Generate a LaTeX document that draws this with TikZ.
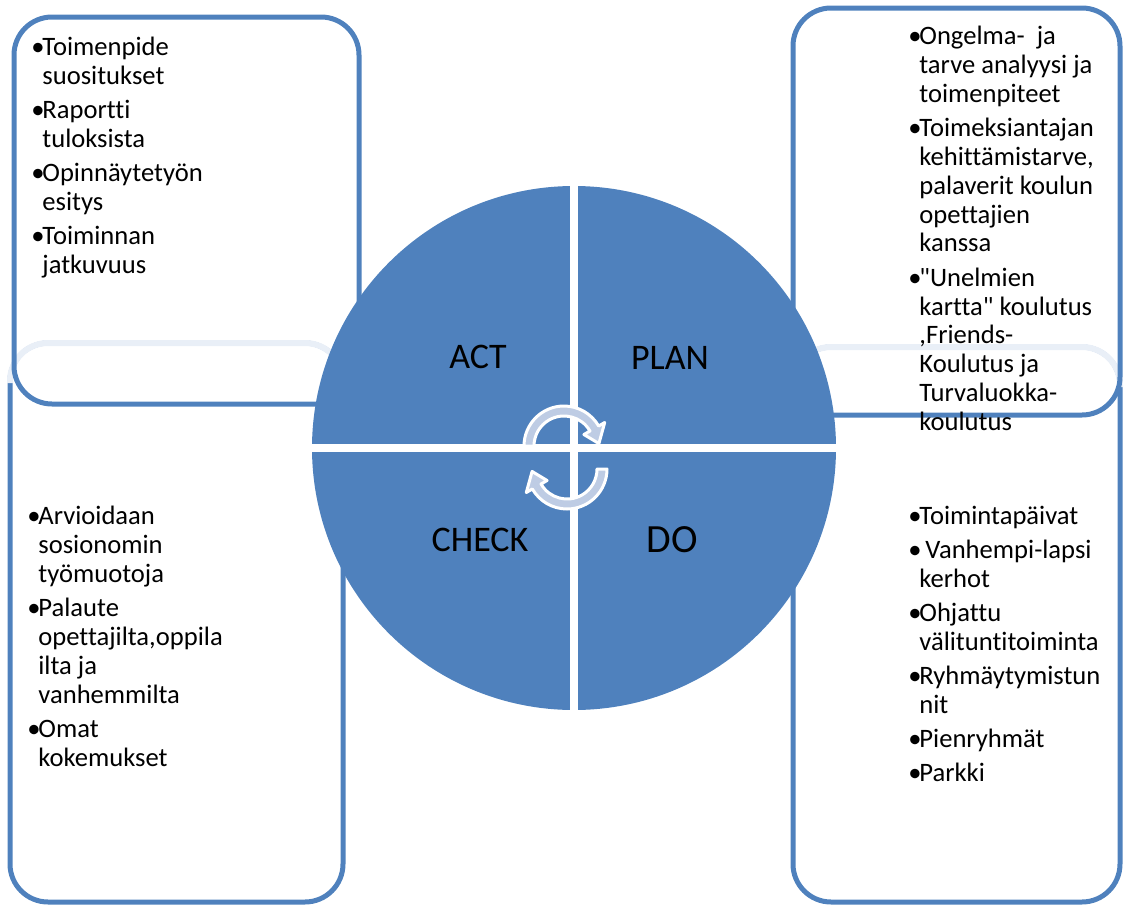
\documentclass[tikz,border=0pt]{standalone}
\usepackage{fontspec}
\setmainfont{Carlito}[Ligatures={TeXOff,CommonOff}]
\definecolor{cycblue}{RGB}{79,129,189}
\definecolor{fadeblue}{RGB}{233,239,247}
\definecolor{arrowfill}{RGB}{190,204,228}
\newcommand{\bul}{\makebox[5.5pt][l]{•}}

\begin{document}
\begin{tikzpicture}[x=0.5pt, y=-0.5pt]
\tikzstyle{every node} = [inner sep=0pt]
\tikzstyle{boxline} = [draw=cycblue, line width=2.5pt, rounded corners=19pt]
\tikzstyle{topfade} = [draw=fadeblue, line width=3pt, rounded corners=19pt]
\tikzstyle{cycarrow} = [fill=arrowfill, draw=white, line width=1.5pt, line join=round]
\tikzstyle{phase} = [font=\fontsize{18}{18}\selectfont]
\tikzstyle{items} = [anchor=base west, font=\fontsize{13.3}{14.5}\selectfont]
\useasboundingbox (0,0) rectangle (1126,905);
% lower boxes, faded at the top
\foreach \xa/\ya/\xb/\yb in {10/343/343/902, 793/347/1120/902} {
\draw[boxline] (\xa,\ya) rectangle (\xb,\yb);
\draw[topfade] (\xa,\ya+40) -- (\xa,\ya) -- (\xb,\ya) -- (\xb,\ya+40);
}
% upper boxes
\foreach \xa/\ya/\xb/\yb in {14/17/359/404, 793/8/1120/415}
\draw[boxline] (\xa,\ya) rectangle (\xb,\yb);
% the cycle
\coordinate (c) at (574,448);
\fill[cycblue] (c) circle[radius=131pt];
\draw[white, line width=4pt] (c) -- +(-263,0) (c) -- +(263,0) (c) -- +(0,-263) (c) -- +(0,263);
\foreach \cx/\cy/\rot in {564/446/0, 567/469/180}
\filldraw[cycarrow, shift={(\cx,\cy)}, rotate=\rot] (180:40) arc[start angle=180, end angle=330, radius=40] -- (330:47) -- (356:35) -- (330:23) -- (330:30) arc[start angle=330, end angle=180, radius=30] -- cycle;
\node[phase] (act) at (478,357) {ACT};
\node[phase] (plan) at (670,358) {PLAN};
\node[phase] (check) at (480,540) {CHECK};
\node[phase, font=\fontsize{20}{20}\selectfont] (do) at (672,540) {DO};
% texts
\node[items] (acttxt) at (31,55) {\begin{tabular}[t]{@{}l@{}l@{}}
\bul&Toimenpide\\ &suositukset\\[2.5pt]
\bul&Raportti\\ &tuloksista\\[2.5pt]
\bul&Opinnäytetyön\\ &esitys\\[2.5pt]
\bul&Toiminnan\\ &jatkuvuus
\end{tabular}};
\node[items] (plantxt) at (908,44) {\begin{tabular}[t]{@{}l@{}l@{}}
\bul&Ongelma-\ \ ja\\ &tarve analyysi ja\\ &toimenpiteet\\[2.5pt]
\bul&Toimeksiantajan\\ &kehittämistarve,\\ &palaverit koulun\\ &opettajien\\ &kanssa\\[2.5pt]
\bul&"Unelmien\\ &kartta" koulutus\\ &,Friends-\\ &Koulutus ja\\ &Turvaluokka-\\ &koulutus
\end{tabular}};
\node[items] (checktxt) at (27,524) {\begin{tabular}[t]{@{}l@{}l@{}}
\bul&Arvioidaan\\ &sosionomin\\ &työmuotoja\\[2.5pt]
\bul&Palaute\\ &opettajilta,oppila\\ &ilta ja\\ &vanhemmilta\\[2.5pt]
\bul&Omat\\ &kokemukset
\end{tabular}};
\node[items] (dotxt) at (908,524) {\begin{tabular}[t]{@{}l@{}l@{}}
\bul&Toimintapäivat\\[2.5pt]
\bul&\ Vanhempi-lapsi\\ &kerhot\\[2.5pt]
\bul&Ohjattu\\ &välituntitoiminta\\[2.5pt]
\bul&Ryhmäytymistun\\ &nit\\[2.5pt]
\bul&Pienryhmät\\[2.5pt]
\bul&Parkki
\end{tabular}};
\end{tikzpicture}
\end{document}
